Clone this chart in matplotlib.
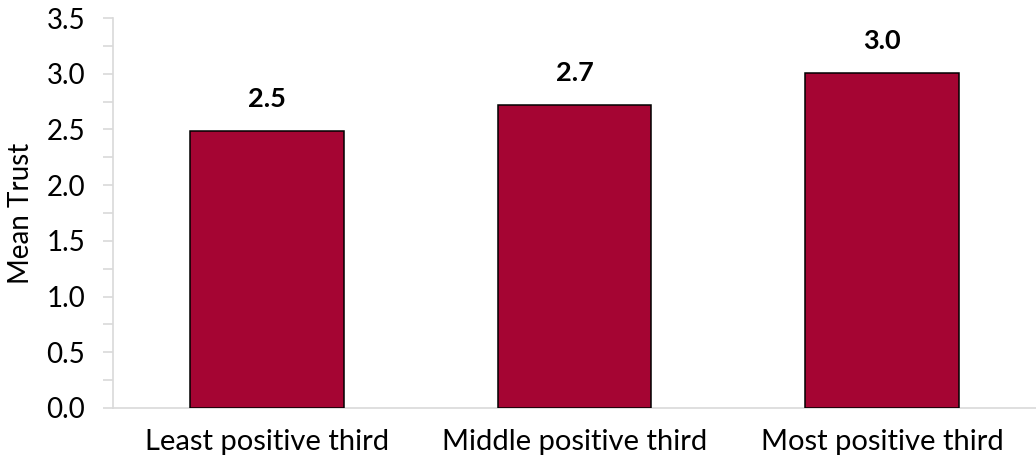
import matplotlib.pyplot as plt
from matplotlib.ticker import MultipleLocator

plt.rcParams['font.family'] = ['Lato', 'DejaVu Sans']

groups = ["Least positive third", "Middle positive third", "Most positive third"]
mean_trust = [2.49, 2.72, 3.01]

bar_color = "#A50533"
axis_grey = "#D9D9D9"

fig = plt.figure(figsize=(10.36, 4.66), dpi=100)
ax = fig.add_axes([113 / 1036, 58 / 466, 923 / 1036, 390 / 466])

x = list(range(len(groups)))
bars = ax.bar(x, mean_trust, width=0.5, color=bar_color,
              edgecolor="black", linewidth=1.1, zorder=3)

# value labels above each bar
for b, v in zip(bars, mean_trust):
    ax.annotate(f"{v:.1f}", (b.get_x() + b.get_width() / 2, v),
                xytext=(0, 14), textcoords="offset points",
                ha="center", va="bottom", fontsize=19.5, fontweight="bold")

ax.set_xlim(-0.5, len(groups) - 0.5)
ax.set_ylim(0, 3.5)
ax.yaxis.set_major_locator(MultipleLocator(0.5))
ax.yaxis.set_minor_locator(MultipleLocator(0.25))
ax.yaxis.set_major_formatter(lambda v, _: f"{v:.1f}")

ax.set_xticks(x)
ax.set_xticklabels(groups)
ax.set_ylabel("Mean Trust", fontsize=20, labelpad=9)

for side in ("top", "right"):
    ax.spines[side].set_visible(False)
for side in ("left", "bottom"):
    ax.spines[side].set_color(axis_grey)
    ax.spines[side].set_linewidth(1.2)

ax.tick_params(axis="y", which="both", length=7, width=1.2, color=axis_grey,
               labelsize=20, pad=13)
ax.tick_params(axis="x", length=0, labelsize=21, pad=15)

fig.savefig("out.png", dpi=100)
